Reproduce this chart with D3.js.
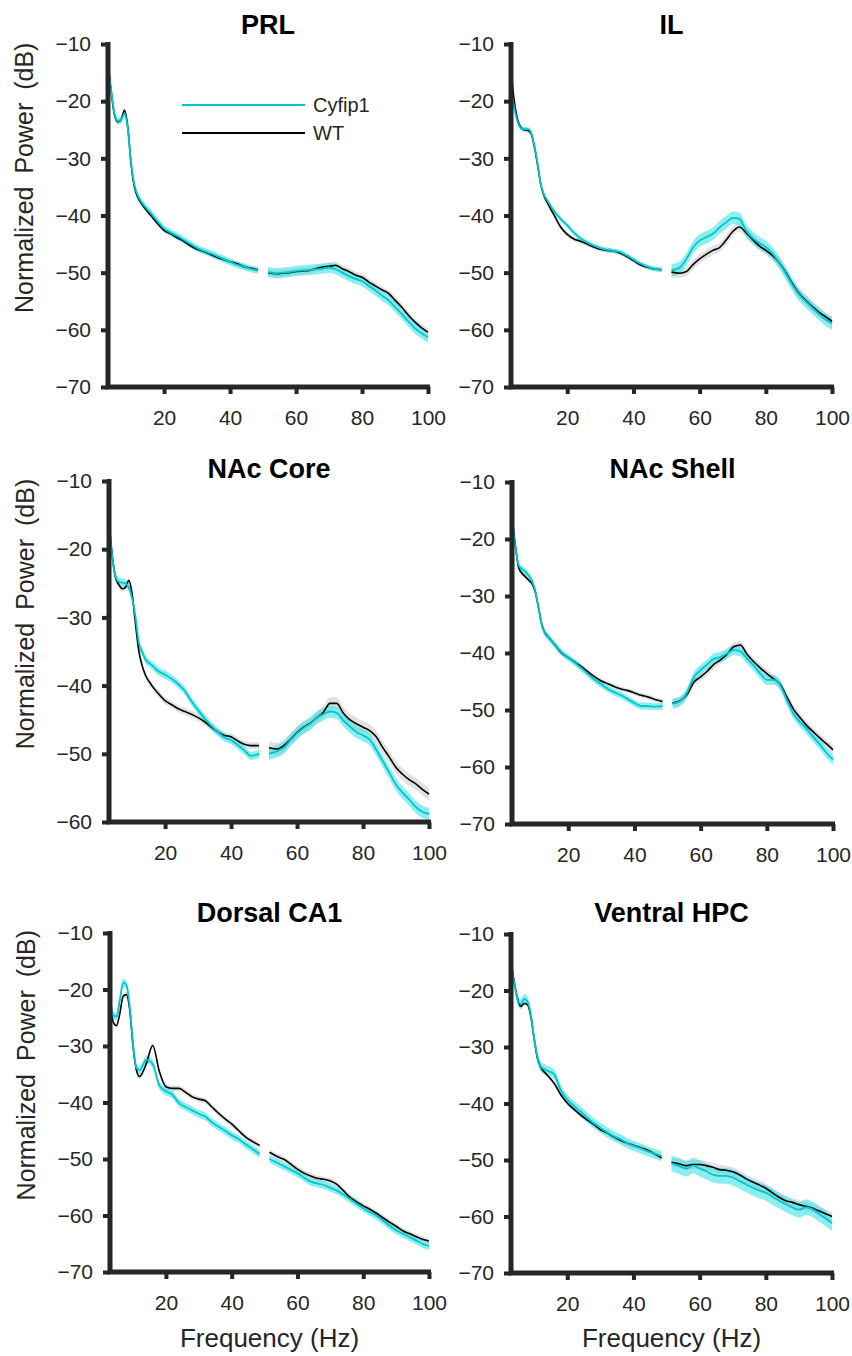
<!DOCTYPE html>
<html>
<head>
<meta charset="utf-8">
<script src="https://cdn.jsdelivr.net/npm/d3@7"></script>
<style>
  body { margin: 0; background: #fff; }
  svg { display: block; font-family: "Liberation Sans", Arial, sans-serif; }
</style>
</head>
<body>
<svg id="chart" width="852" height="1356"></svg>
<script>
// --- DATA ---
// frequency grid (Hz); the 48.5-51.5 Hz notch band is left out
const freqLow = [3,4,5,6,7,8,9,10,11,12,13,14,16,18,20,22,24,26,28,30,32,34,36,38,40,42,44,46,48.5];
const freqHigh = [51.5,54,56,58,60,62,64,66,68,70,72,74,76,78,80,82,84,86,88,90,92,94,96,98,100];

const regions = ['PRL', 'IL', 'NAc Core', 'NAc Shell', 'Dorsal CA1', 'Ventral HPC'];
const groups = ['Cyfip1', 'WT'];
const xTicks = [20, 40, 60, 80, 100];
const yTicksFull = [-10, -20, -30, -40, -50, -60, -70];
const yTicksCore = [-10, -20, -30, -40, -50, -60];
const yMin = [-70, -70, -60, -70, -70, -70];

// mean normalized power (dB), low segment then high segment
const prlWT = [-13.5,-18.5,-22.5,-23.6,-23.2,-21.6,-24.5,-31.0,-35.0,-36.8,-37.8,-38.6,-40.0,-41.4,-42.6,-43.2,-43.9,-44.5,-45.3,-45.9,-46.3,-46.8,-47.3,-47.7,-48.1,-48.4,-48.9,-49.2,-49.5,
  -50.0,-50.2,-50.1,-50.0,-49.8,-49.7,-49.6,-49.3,-49.0,-48.9,-48.7,-49.3,-49.8,-50.4,-50.8,-51.6,-52.3,-53.0,-53.6,-54.8,-56.0,-57.4,-58.6,-59.6,-60.4];
const prlCyfip = [-13.2,-18.2,-22.3,-23.5,-23.2,-22.2,-24.8,-30.8,-34.6,-36.5,-37.5,-38.3,-39.6,-41.0,-42.3,-43.0,-43.6,-44.3,-45.0,-45.7,-46.2,-46.6,-47.1,-47.6,-48.1,-48.6,-48.9,-49.3,-49.6,
  -49.9,-50.1,-50.0,-49.9,-49.7,-49.6,-49.5,-49.4,-49.3,-49.1,-49.4,-50.0,-50.6,-51.1,-51.5,-52.3,-53.1,-54.0,-54.8,-56.0,-57.2,-58.5,-59.7,-60.6,-61.3];

const ilWT = [-14.7,-20.0,-23.2,-24.6,-25.0,-25.1,-25.6,-27.8,-31.0,-34.6,-36.6,-37.8,-39.9,-42.0,-43.3,-44.1,-44.5,-45.0,-45.5,-45.9,-46.1,-46.2,-46.6,-47.2,-47.9,-48.6,-49.0,-49.3,-49.5,
  -49.9,-50.1,-49.8,-48.6,-47.6,-46.8,-46.1,-45.6,-44.3,-42.8,-42.0,-43.0,-44.2,-45.3,-46.1,-47.0,-48.2,-49.9,-51.9,-53.6,-54.8,-55.9,-56.9,-57.7,-58.5];
const ilCyfip = [-17.9,-21.2,-23.6,-24.7,-24.9,-24.9,-25.4,-27.6,-30.8,-34.5,-36.4,-37.4,-39.2,-40.6,-41.7,-43.0,-44.0,-44.7,-45.3,-45.7,-46.0,-46.2,-46.4,-47.0,-47.7,-48.4,-48.9,-49.3,-49.5,
  -49.6,-49.1,-47.6,-45.6,-44.4,-43.8,-43.2,-42.1,-41.2,-40.4,-40.6,-42.6,-43.9,-44.8,-45.5,-46.6,-48.2,-50.1,-52.1,-53.8,-55.0,-56.1,-57.2,-58.2,-58.9];

const coreWT = [-15.8,-21.0,-24.2,-25.2,-25.8,-25.6,-24.6,-26.5,-30.8,-34.8,-37.0,-38.4,-40.0,-41.2,-42.2,-42.8,-43.4,-43.8,-44.2,-44.7,-45.3,-46.1,-46.8,-47.3,-47.5,-48.1,-48.6,-48.8,-48.8,
  -49.1,-49.3,-48.8,-47.9,-46.9,-46.1,-45.5,-44.7,-43.9,-42.6,-42.6,-44.0,-45.0,-45.6,-46.1,-46.6,-47.5,-49.1,-50.5,-52.0,-53.0,-53.8,-54.4,-55.2,-55.9];
const coreCyfip = [-15.7,-21.2,-24.0,-24.8,-24.9,-25.0,-25.6,-27.2,-29.8,-33.6,-35.0,-36.1,-37.0,-37.9,-38.4,-39.0,-39.8,-40.8,-42.3,-43.6,-44.8,-45.9,-46.8,-47.6,-48.0,-48.7,-49.5,-50.3,-50.0,
  -50.0,-49.6,-49.1,-48.0,-47.0,-46.2,-45.6,-44.7,-44.2,-43.8,-44.0,-45.1,-46.0,-46.8,-47.3,-47.9,-49.4,-51.1,-52.8,-54.5,-55.7,-56.7,-57.8,-58.5,-58.8];

const shellWT = [-16.1,-21.0,-25.0,-26.0,-26.6,-27.2,-27.8,-29.2,-32.0,-35.0,-36.5,-37.2,-38.6,-40.0,-40.8,-41.6,-42.4,-43.3,-44.2,-44.9,-45.4,-45.9,-46.3,-46.6,-47.0,-47.4,-47.7,-48.1,-48.5,
  -48.8,-48.3,-47.2,-45.1,-44.2,-43.2,-42.0,-41.2,-40.2,-38.9,-38.6,-40.2,-41.5,-42.6,-43.6,-44.5,-45.5,-47.6,-49.8,-51.3,-52.7,-53.8,-54.9,-55.9,-57.0];
const shellCyfip = [-16.5,-21.2,-24.6,-25.3,-25.7,-26.4,-27.3,-29.0,-32.0,-35.1,-36.6,-37.2,-38.6,-39.9,-40.8,-41.7,-42.7,-43.7,-44.7,-45.5,-46.3,-46.9,-47.4,-48.1,-48.8,-49.3,-49.3,-49.4,-49.3,
  -48.9,-48.4,-46.8,-44.2,-43.0,-42.0,-41.0,-40.7,-40.1,-39.5,-39.7,-41.0,-42.2,-43.6,-44.7,-44.7,-45.6,-48.2,-50.6,-52.1,-53.3,-54.7,-56.0,-57.5,-58.7];

const ca1WT = [-22.4,-25.8,-26.4,-24.2,-21.2,-20.9,-23.6,-30.0,-34.2,-35.4,-34.6,-33.2,-29.9,-34.5,-37.2,-37.5,-37.5,-38.2,-39.0,-39.4,-39.7,-40.8,-41.9,-42.9,-43.8,-44.9,-46.0,-46.8,-47.6,
  -48.8,-49.6,-50.1,-50.9,-51.8,-52.5,-53.0,-53.4,-53.6,-53.9,-54.5,-55.6,-56.8,-57.6,-58.3,-58.9,-59.6,-60.4,-61.2,-61.9,-62.7,-63.2,-63.7,-64.2,-64.5];
const ca1Cyfip = [-21.3,-24.6,-24.8,-21.8,-18.8,-19.2,-23.0,-29.6,-33.8,-34.3,-33.4,-32.4,-33.2,-37.0,-38.0,-38.6,-40.1,-40.8,-41.4,-42.0,-42.5,-43.5,-44.3,-45.0,-45.8,-46.4,-47.3,-48.1,-49.1,
  -50.0,-50.7,-51.3,-51.9,-52.5,-53.3,-54.0,-54.3,-54.6,-55.1,-55.6,-56.3,-57.1,-57.9,-58.7,-59.4,-60.0,-60.9,-61.8,-62.6,-63.2,-63.8,-64.4,-65.0,-65.4];

const vhpcWT = [-14.8,-18.6,-21.5,-22.8,-22.3,-22.5,-24.6,-28.6,-32.0,-33.6,-34.4,-35.0,-36.4,-38.4,-39.9,-41.0,-42.0,-42.9,-43.7,-44.6,-45.2,-45.9,-46.5,-47.0,-47.4,-47.8,-48.2,-48.8,-49.6,
  -50.4,-50.7,-51.0,-50.8,-50.8,-51.0,-51.3,-51.7,-51.8,-52.1,-52.6,-53.3,-53.9,-54.4,-55.0,-55.8,-56.6,-57.2,-57.5,-57.9,-58.2,-58.5,-59.0,-59.5,-60.0];
const vhpcCyfip = [-15.3,-18.8,-21.6,-22.4,-21.5,-22.0,-24.3,-28.4,-31.8,-33.5,-33.9,-34.2,-34.8,-37.6,-39.3,-40.4,-41.4,-42.5,-43.5,-44.3,-45.1,-45.8,-46.3,-47.0,-47.5,-47.9,-48.4,-48.8,-49.3,
  -50.6,-51.1,-51.5,-51.0,-51.5,-52.0,-52.6,-52.8,-52.8,-53.1,-53.7,-54.3,-54.9,-55.4,-55.8,-56.5,-57.2,-57.8,-58.4,-58.8,-58.4,-58.7,-59.5,-60.3,-61.2];

// SEM half-width (dB) for [low segment, high segment]
const semWT = [[0.4,0.6],[0.4,0.8],[0.5,0.9],[0.4,0.7],[0.5,0.5],[0.4,0.8]];
const semCyfip = [[0.6,0.9],[0.4,1.1],[0.6,0.9],[0.6,0.9],[0.7,0.7],[0.9,1.4]];

const wtSeries = [prlWT, ilWT, coreWT, shellWT, ca1WT, vhpcWT];
const cyfipSeries = [prlCyfip, ilCyfip, coreCyfip, shellCyfip, ca1Cyfip, vhpcCyfip];

// --- LAYOUT ---
const boxes = [
  {x0: 108, x1: 428, y0: 44, y1: 387, title: 34},
  {x0: 511, x1: 832, y0: 44, y1: 387, title: 34},
  {x0: 109, x1: 429, y0: 481, y1: 822, title: 478},
  {x0: 512, x1: 833, y0: 482, y1: 824, title: 478},
  {x0: 110, x1: 429, y0: 933, y1: 1272, title: 922},
  {x0: 511, x1: 832, y0: 934, y1: 1273, title: 922}
];
const axisColor = '#262626';
const cyan = '#00c6cd';

const svg = d3.select('#chart');
svg.append('rect').attr('width', 852).attr('height', 1356).attr('fill', '#fff');

regions.forEach((name, i) => {
  const b = boxes[i];
  const x = d3.scaleLinear().domain([3, 100]).range([b.x0, b.x1]);
  const y = d3.scaleLinear().domain([yMin[i], -10]).range([b.y1, b.y0]);
  const g = svg.append('g');
  const nLow = freqLow.length;

  const segs = (vals, sem) => [
    freqLow.map((f, k) => ({f, v: vals[k], s: sem[0]})),
    freqHigh.map((f, k) => ({f, v: vals[nLow + k], s: sem[1]}))
  ];

  const area = d3.area().curve(d3.curveMonotoneX)
    .x(d => x(d.f)).y0(d => y(d.v - d.s)).y1(d => y(d.v + d.s));
  const line = d3.line().curve(d3.curveMonotoneX)
    .x(d => x(d.f)).y(d => y(d.v));

  const wt = segs(wtSeries[i], semWT[i]);
  const cy = segs(cyfipSeries[i], semCyfip[i]);

  // bands
  wt.forEach(s => g.append('path').attr('d', area(s)).attr('fill', '#c8c8c8').attr('opacity', 0.55));
  cy.forEach(s => g.append('path').attr('d', area(s)).attr('fill', '#2fe0e3').attr('opacity', 0.55));
  // mean lines
  wt.forEach(s => g.append('path').attr('d', line(s)).attr('fill', 'none')
    .attr('stroke', '#000').attr('stroke-width', 1.6));
  cy.forEach(s => g.append('path').attr('d', line(s)).attr('fill', 'none')
    .attr('stroke', cyan).attr('stroke-width', 1.8));

  // axes
  const xAxis = d3.axisBottom(x).tickValues(xTicks).tickSize(7).tickSizeOuter(0).tickPadding(16);
  const yAxis = d3.axisLeft(y).tickValues(yMin[i] === -60 ? yTicksCore : yTicksFull)
    .tickSize(7).tickSizeOuter(0).tickPadding(10);

  const gx = g.append('g').attr('transform', `translate(0,${b.y1})`).call(xAxis);
  const gy = g.append('g').attr('transform', `translate(${b.x0},0)`).call(yAxis);
  [gx, gy].forEach(a => {
    a.select('.domain').remove();
    a.selectAll('.tick line').attr('stroke', axisColor).attr('stroke-width', 4);
    a.selectAll('.tick text').attr('fill', axisColor)
      .style('font-size', '21px').style('font-family', '"Liberation Sans", Arial, sans-serif');
  });

  g.append('path')
    .attr('d', `M${b.x0},${b.y0 - 2}V${b.y1}H${b.x1 + 2}`)
    .attr('fill', 'none').attr('stroke', axisColor).attr('stroke-width', 5)
    .attr('stroke-linejoin', 'miter');

  // title
  g.append('text').attr('x', (b.x0 + b.x1) / 2).attr('y', b.title)
    .attr('text-anchor', 'middle').attr('font-weight', 'bold')
    .attr('font-size', 27).attr('fill', '#000').text(name);

  if (i % 2 === 0) {
    g.append('text')
      .attr('transform', `translate(${b.x0 - 75},${b.y0 + (b.y1 - b.y0) * 0.39}) rotate(-90)`)
      .attr('text-anchor', 'middle').attr('font-size', 25).attr('fill', axisColor)
      .style('word-spacing', '6px')
      .text('Normalized Power (dB)');
  }
  if (i >= 4) {
    g.append('text').attr('x', (b.x0 + b.x1) / 2).attr('y', 1347)
      .attr('text-anchor', 'middle').attr('font-size', 26).attr('fill', axisColor)
      .text('Frequency (Hz)');
  }

  // legend (first panel only)
  if (i === 0) {
    const lg = g.append('g');
    groups.forEach((gr, k) => {
      const ly = 105 + k * 28;
      lg.append('line').attr('x1', 182).attr('x2', 305).attr('y1', ly).attr('y2', ly)
        .attr('stroke', k === 0 ? cyan : '#000').attr('stroke-width', 2);
      lg.append('text').attr('x', 313).attr('y', ly + 7).attr('font-size', 20)
        .attr('fill', axisColor).text(gr);
    });
  }
});
</script>
</body>
</html>
